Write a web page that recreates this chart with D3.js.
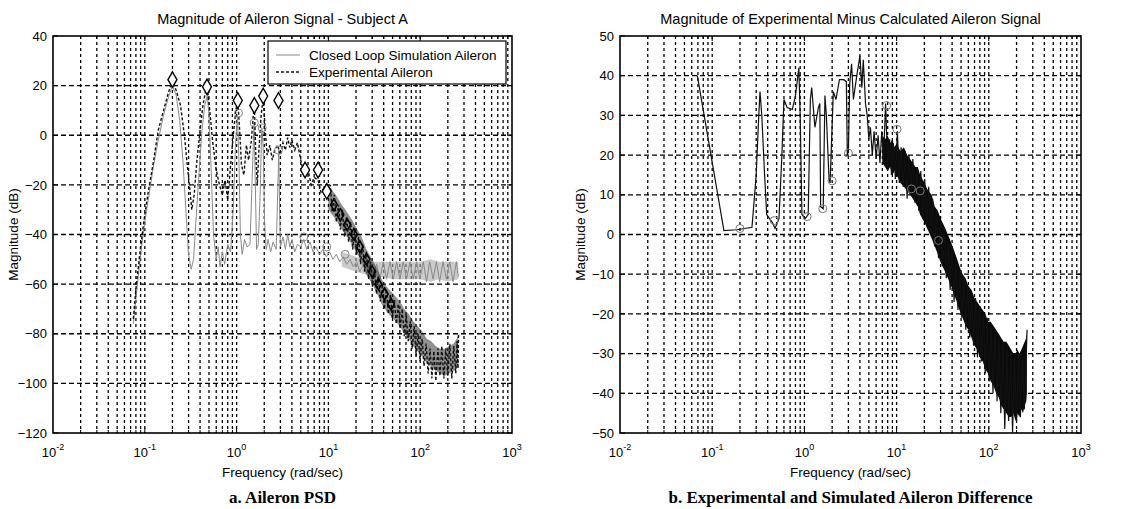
<!DOCTYPE html>
<html><head><meta charset="utf-8">
<script src="https://cdn.jsdelivr.net/npm/d3@7"></script>
<style>
body{margin:0;background:#fff;}
text{font-family:"Liberation Sans",Arial,sans-serif;fill:#000;}
</style></head>
<body><svg id="c" width="1138" height="509"></svg>
<script>
// ---------- DATA ----------
const leftTitle = "Magnitude of Aileron Signal - Subject A";
const rightTitle = "Magnitude of Experimental Minus Calculated Aileron Signal";
const xLabel = "Frequency (rad/sec)";
const yLabel = "Magnitude (dB)";
const captionA = "a.  Aileron PSD";
const captionB = "b. Experimental and Simulated Aileron Difference";
const legendLabels = ["Closed Loop Simulation Aileron", "Experimental Aileron"];
const xDecades = [-2, -1, 0, 1, 2, 3];
const leftYTicks = [40, 20, 0, -20, -40, -60, -80, -100, -120];
const rightYTicks = [50, 40, 30, 20, 10, 0, -10, -20, -30, -40, -50];

// Experimental aileron PSD (black dashed)
const expFreq = [0.075,0.08,0.09,0.1,0.11,0.125,0.14,0.16,0.18,0.2,0.22,0.245,0.27,0.29,0.31,0.325,0.345,0.37,0.4,0.43,0.46,0.48,0.51,0.55,0.6,0.65,0.7,0.75,0.8,0.86,0.92,0.98,1.03,1.08,1.13,1.2,1.28,1.35,1.45,1.52,1.56,1.62,1.68,1.75,1.85,1.95,2.05,2.15,2.3,2.45,2.6,2.8,3.0,3.2,3.4,3.6,3.8,4.0,4.3,4.6,5.0,5.5,6.0,6.5,7.0,7.7,8.3,9.0,9.6,
10.5,11,11.6,12.2,12.9,13.5,14.2,15,15.8,16.6,17.5,18.4,19.3,20.3,21.3,22.4,23.6,24.8,26,27.4,28.8,30.3,31.8,33.4,35,36.8,38.7,40.7,42.8,45,47.3,49.7,52.2,54.9,57.7,60.6,63.7,67,70.4,74,77.8,81.8,86,90.4,95,99.8,105,110,116,122,128,134,141,148,156,164,172,181,190,200,210,221,232,244,252,258,262];
const expDb = [-74,-62,-45,-32,-22,-10,2,10,17,22,18,12,0,-12,-22,-30,-24,-10,2,12,18,19,10,-3,-14,-20,-24,-18,-26,-12,0,10,14,2,-12,-16,-4,-10,-2,8,12,-8,-20,-6,8,15,2,-8,-4,-10,-6,-4,-8,-3,-6,-1,-5,-2,-6,-3,-10,-17,-14,-20,-17,-18,-23,-21,-25,
-20,-31,-24,-35,-28,-38,-30,-41,-33,-43,-35,-46,-38,-48,-41,-52,-44,-55,-47,-58,-51,-61,-54,-64,-57,-67,-60,-70,-62,-72,-64,-74,-66,-76,-68,-78,-70,-81,-72,-83,-75,-86,-77,-89,-80,-91,-82,-93,-84,-96,-86,-98,-87,-99,-86,-97,-85,-98,-86,-97,-84,-98,-85,-96,-83,-94,-80];
// envelope of the dense experimental band above 10 rad/s
const expBandFreq = [10,12,14,16,18,20,23,26,30,34,38,43,48,54,60,67,75,84,94,105,118,132,148,165,185,205,230,250,260];
const expBandHi = [-20,-24,-28,-31,-34,-37,-41,-46,-50,-54,-58,-61,-63,-65,-67,-70,-72,-75,-77,-79,-82,-83,-85,-86,-86,-85,-84,-82,-80];
const expBandLo = [-30,-34,-38,-41,-44,-47,-51,-56,-60,-64,-68,-71,-73,-75,-77,-80,-82,-85,-87,-89,-92,-93,-95,-96,-97,-96,-95,-94,-93];
// small diamond markers along the experimental decline
const expMarkFreq = [11.5,13.5,16,19,22,26,30,35,41,48];
const expMarkDb = [-28,-32,-36,-40,-45,-50,-55,-60,-64,-68];

// Closed loop simulation aileron PSD (gray solid)
const simFreq = [0.075,0.08,0.09,0.1,0.11,0.125,0.14,0.16,0.18,0.2,0.22,0.24,0.26,0.28,0.3,0.32,0.34,0.36,0.39,0.42,0.45,0.48,0.5,0.53,0.56,0.6,0.63,0.66,0.7,0.74,0.8,0.86,0.92,0.97,1.02,1.06,1.1,1.15,1.22,1.3,1.4,1.5,1.55,1.6,1.65,1.72,1.8,1.88,1.95,2.02,2.1,2.2,2.35,2.5,2.7,2.82,2.88,2.94,3.0,3.2,3.4,3.6,3.8,4.0,4.3,4.6,5.0,5.4,5.8,6.3,6.8,7.3,8,8.7,9.5,10.3,11.2,12.2,13.3,14.5,15.8,17.2,18.7,20.3,22,24,26,28.3,30.8,33.5,36.4,39.6,43,46.8,50.9,55.3,60.1,65.4,71.1,77.3,84,91.3,99.3,108,117,127,138,150,163,177,193,210,228,248,260];
const simDb = [-76,-66,-48,-35,-25,-12,-2,8,15,20,16,6,-10,-30,-48,-54,-50,-35,-15,2,12,16,8,-15,-40,-50,-45,-53,-47,-52,-44,-47,-30,-5,8,-10,-40,-48,-42,-45,-44,-10,5,-20,-46,-44,-25,3,-5,-35,-46,-42,-47,-43,-46,-20,-6,-30,-45,-41,-46,-40,-45,-42,-47,-44,-45,-42,-46,-43,-47,-45,-48,-46,-49,-47,-50,-48,-51,-49,-52,-50,-53,-51,-55,-52,-56,-52,-57,-52,-58,-51,-58,-51,-58,-51,-58,-51,-58,-51,-58,-51,-58,-51,-59,-51,-58,-51,-59,-51,-58,-51,-59,-51,-57];
const simBandFreq = [14,20,25,30,40,50,60,80,100,130,160,200,260];
const simBandHi = [-47,-49,-50,-51,-51,-51,-51,-51,-51,-50,-51,-51,-51];
const simBandLo = [-53,-55,-56,-57,-57,-58,-58,-58,-58,-59,-58,-59,-58];

// markers on the left panel
const diamondFreq = [0.2,0.476,1.03,1.56,1.95,2.86,5.57,7.72,9.6];
const diamondDb = [22.4,19.5,14,12,15.8,14,-14,-14,-22.6];
const simCircleFreq = [1.05,1.56,1.9,2.86,5.4,9.6,15.2];
const simCircleDb = [9,5,3,-6,-41,-45,-48];

// Difference (experimental minus calculated), right panel
const diffFreq = [0.069,0.134,0.186,0.27,0.3,0.32,0.33,0.345,0.37,0.39,0.45,0.48,0.53,0.57,0.6,0.65,0.74,0.8,0.87,0.9,0.94,1.02,1.1,1.16,1.2,1.3,1.42,1.47,1.5,1.6,1.67,1.73,1.85,1.9,2.06,2.2,2.4,2.67,2.85,2.92,3.0,3.1,3.25,3.4,3.7,4.0,4.2,4.35,4.6,4.8,5.0,
5.2,5.45,5.7,6.0,6.3,6.6,6.9,7.2,7.6,8.0,8.4,8.8,9.2,9.7,10.2,10.7,11.2,11.8,12.4,13,13.6,14.3,15,15.8,16.6,17.4,18.3,19.2,20.2,21.2,22.3,23.4,24.6,25.8,27.1,28.5,29.9,31.4,33,34.6,36.3,38.1,40,42,44.1,46.3,48.6,51,53.6,56.3,59.1,62,65.1,68.4,71.8,75.4,79.2,83.1,87.3,91.6,96.2,101,106,111,117,123,129,135,142,149,157,164,173,181,190,200,210,220,231,243,255,260];
const diffDb = [40,1,1.2,1.8,15,30,36,30,15,5,3,1.5,4,20,34,32,31.5,35,42,30,5,4,5,34,37,27,32,33,7,6.5,35,30,14,13,36,34,39,39,38.5,20,21,38,43,34,40,45,37,44,33,30,24,
27,20,26,19,25,18,26,19,33,17,24,15,23,14,26,13,22,12,21,9,20,11,19,8,17,6,16,4,14,2,12,0,9,-3,6,-6,3,-8,1,-11,-2,-14,-4,-17,-7,-19,-9,-21,-11,-24,-13,-26,-15,-28,-16,-31,-18,-32,-20,-35,-21,-37,-23,-40,-24,-42,-26,-45,-27,-49,-29,-47,-30,-50,-31,-47,-30,-46,-31,-44,-30,-24];
const diffBandFreq = [7,7.5,8,8.5,9,9.5,10,11,12,13,14,15,16,17,18,19,20,22,24,26,28,30,33,36,39,42,45,48,52,56,60,65,70,75,80,86,92,98,105,112,120,128,136,145,155,165,175,185,195,205,215,225,235,245,255,259];
const diffBandHi = [25,24,25,23,24,22,23,21,22,20,19,18,17,17,15,14,13,11,10,7,6,4,2,0,-2,-4,-6,-8,-10,-11,-13,-14,-16,-17,-18,-19,-20,-22,-22,-23,-24,-25,-26,-27,-27,-28,-29,-30,-30,-29,-30,-29,-28,-27,-26,-25];
const diffBandLo = [18,17,16,17,15,16,15,13,12,11,10,9,8,7,5,4,3,1,-1,-3,-5,-7,-9,-11,-13,-15,-17,-19,-21,-23,-24,-26,-28,-29,-31,-32,-34,-35,-37,-38,-40,-41,-43,-44,-45,-46,-46,-45,-47,-45,-46,-44,-45,-43,-42,-40];
const diffCircleFreq = [0.2,0.47,1.07,1.58,2.0,3.0,7.8,10.1,14.5,18,28.5];
const diffCircleDb = [1.5,3.5,4.5,6.5,13.5,20.5,32.5,26.5,11.5,11,-1.5];

// ---------- DRAW ----------
const svg = d3.select("#c");
const zip = (a,b)=>a.map((v,i)=>[v,b[i]]);
const zip3 = (a,b,c)=>a.map((v,i)=>[v,b[i],c[i]]);

function panel(cfg){
  const g = svg.append("g");
  const x = d3.scaleLog().domain([1e-2,1e3]).range([cfg.x0,cfg.x1]);
  const y = d3.scaleLinear().domain(cfg.yDomain).range([cfg.y1,cfg.y0]);
  const clipId = "clip"+cfg.id;
  svg.append("clipPath").attr("id",clipId).append("rect")
    .attr("x",cfg.x0).attr("y",cfg.y0).attr("width",cfg.x1-cfg.x0).attr("height",cfg.y1-cfg.y0);

  const vgrid=[];
  xDecades.forEach(d=>{ for(let k=1;k<=9;k++){ vgrid.push(k*Math.pow(10,d)); } });
  const inner = vgrid.filter(v=>v>1e-2*1.0001 && v<1e3*0.9999);
  g.selectAll(".vg").data(inner).enter().append("line")
    .attr("x1",d=>x(d)).attr("x2",d=>x(d)).attr("y1",cfg.y0).attr("y2",cfg.y1)
    .attr("stroke","#000").attr("stroke-width",1.3).attr("stroke-dasharray","3,3");
  const innerY = cfg.yTicks.filter(v=>v!==cfg.yDomain[0]&&v!==cfg.yDomain[1]);
  g.selectAll(".hg").data(innerY).enter().append("line")
    .attr("x1",cfg.x0).attr("x2",cfg.x1).attr("y1",d=>y(d)).attr("y2",d=>y(d))
    .attr("stroke","#000").attr("stroke-width",1.3).attr("stroke-dasharray","5,3");

  inner.forEach(v=>{
    const major = Math.abs(Math.log10(v)-Math.round(Math.log10(v)))<1e-6;
    const len = major ? 5 : 3;
    g.append("line").attr("x1",x(v)).attr("x2",x(v)).attr("y1",cfg.y1).attr("y2",cfg.y1-len).attr("stroke","#000");
    g.append("line").attr("x1",x(v)).attr("x2",x(v)).attr("y1",cfg.y0).attr("y2",cfg.y0+len).attr("stroke","#000");
  });

  const xAxis = d3.axisBottom(x).tickValues(xDecades.map(d=>Math.pow(10,d))).tickSize(0).tickFormat("");
  const xa = g.append("g").attr("transform",`translate(0,${cfg.y1})`).call(xAxis);
  xa.select(".domain").remove();
  xDecades.forEach(d=>{
    const t = g.append("text").attr("x",x(Math.pow(10,d))).attr("y",cfg.y1+24).attr("text-anchor","middle").style("font-size","13px");
    t.append("tspan").text("10");
    t.append("tspan").attr("dy",-7).style("font-size","9px").text(String(d));
  });
  const yAxis = d3.axisLeft(y).tickValues(cfg.yTicks).tickSize(0).tickPadding(6);
  const ya = g.append("g").attr("transform",`translate(${cfg.x0},0)`).call(yAxis);
  ya.select(".domain").remove();
  ya.selectAll("text").style("font-size","13px").style("font-family","Liberation Sans, Arial");
  cfg.yTicks.forEach(v=>{
    g.append("line").attr("x1",cfg.x0).attr("x2",cfg.x0+5).attr("y1",y(v)).attr("y2",y(v)).attr("stroke","#000");
    g.append("line").attr("x1",cfg.x1).attr("x2",cfg.x1-5).attr("y1",y(v)).attr("y2",y(v)).attr("stroke","#000");
  });
  g.append("rect").attr("x",cfg.x0).attr("y",cfg.y0).attr("width",cfg.x1-cfg.x0).attr("height",cfg.y1-cfg.y0)
    .attr("fill","none").attr("stroke","#000").attr("stroke-width",1.6);

  const cx=(cfg.x0+cfg.x1)/2;
  g.append("text").attr("x",cx).attr("y",cfg.y0-12).attr("text-anchor","middle").style("font-size","14.5px").text(cfg.title);
  g.append("text").attr("x",cx).attr("y",cfg.y1+44).attr("text-anchor","middle").style("font-size","13.5px").text(xLabel);
  g.append("text").attr("transform",`translate(${cfg.yLabX},${(cfg.y0+cfg.y1)/2}) rotate(-90)`)
    .attr("text-anchor","middle").style("font-size","13.5px").text(yLabel);
  g.append("text").attr("x",cx).attr("y",cfg.y1+70).attr("text-anchor","middle")
    .style("font-family","Liberation Serif, Times New Roman, serif").style("font-weight","bold").style("font-size","17px").text(cfg.caption);

  const plot = g.append("g").attr("clip-path",`url(#${clipId})`);
  return {x,y,plot,g};
}

const line = (p)=>d3.line().x(d=>p.x(d[0])).y(d=>p.y(d[1]));
const band = (p)=>d3.area().x(d=>p.x(d[0])).y0(d=>p.y(d[2])).y1(d=>p.y(d[1]));

// LEFT
const L = panel({id:"L",x0:53,x1:512,y0:36,y1:433,yDomain:[-120,40],yTicks:leftYTicks,title:leftTitle,caption:captionA,yLabX:18});
L.plot.append("path").datum(zip3(simBandFreq,simBandHi,simBandLo)).attr("d",band(L)).attr("fill","#a8a8a8").attr("opacity",0.6);
L.plot.append("path").datum(zip(simFreq,simDb)).attr("d",line(L)).attr("fill","none").attr("stroke","#8a8a8a").attr("stroke-width",1);
L.plot.append("path").datum(zip3(expBandFreq,expBandHi,expBandLo)).attr("d",band(L)).attr("fill","#222").attr("opacity",0.5);
L.plot.append("path").datum(zip(expFreq,expDb)).attr("d",line(L)).attr("fill","none").attr("stroke","#111").attr("stroke-width",1.4).attr("stroke-dasharray","3,2");
L.plot.selectAll(".em").data(zip(expMarkFreq,expMarkDb)).enter().append("path")
  .attr("d",d3.symbol().type(d3.symbolDiamond).size(40))
  .attr("transform",d=>`translate(${L.x(d[0])},${L.y(d[1])})`)
  .attr("fill","none").attr("stroke","#000").attr("stroke-width",1.6);
L.plot.selectAll(".sc").data(zip(simCircleFreq,simCircleDb)).enter().append("circle")
  .attr("cx",d=>L.x(d[0])).attr("cy",d=>L.y(d[1])).attr("r",4).attr("fill","none").attr("stroke","#888");
L.plot.selectAll(".dm").data(zip(diamondFreq,diamondDb)).enter().append("path")
  .attr("d",d3.symbol().type(d3.symbolDiamond).size(70))
  .attr("transform",d=>`translate(${L.x(d[0])},${L.y(d[1])})`)
  .attr("fill","#fff").attr("stroke","#000").attr("stroke-width",1.4);

// legend
const lg = L.g.append("g");
const lx0=268, lx1=506, ly0=41, ly1=84;
lg.append("rect").attr("x",lx0).attr("y",ly0).attr("width",lx1-lx0).attr("height",ly1-ly0).attr("fill","#fff").attr("stroke","#000").attr("stroke-width",1.2);
lg.append("line").attr("x1",276).attr("x2",300).attr("y1",55).attr("y2",55).attr("stroke","#8a8a8a").attr("stroke-width",1);
lg.append("line").attr("x1",276).attr("x2",300).attr("y1",72).attr("y2",72).attr("stroke","#111").attr("stroke-width",1.3).attr("stroke-dasharray","3,2");
lg.append("text").attr("x",309).attr("y",60).style("font-size","13.5px").text(legendLabels[0]);
lg.append("text").attr("x",309).attr("y",77).style("font-size","13.5px").text(legendLabels[1]);

// RIGHT
const R = panel({id:"R",x0:620,x1:1081,y0:36,y1:433,yDomain:[-50,50],yTicks:rightYTicks,title:rightTitle,caption:captionB,yLabX:585});
R.plot.append("path").datum(zip3(diffBandFreq,diffBandHi,diffBandLo)).attr("d",band(R)).attr("fill","#0a0a0a");
R.plot.append("path").datum(zip(diffFreq,diffDb)).attr("d",line(R)).attr("fill","none").attr("stroke","#111").attr("stroke-width",1.2);
R.plot.selectAll(".rc").data(zip(diffCircleFreq,diffCircleDb)).enter().append("circle")
  .attr("cx",d=>R.x(d[0])).attr("cy",d=>R.y(d[1])).attr("r",4).attr("fill","none").attr("stroke","#777");
</script></body></html>
